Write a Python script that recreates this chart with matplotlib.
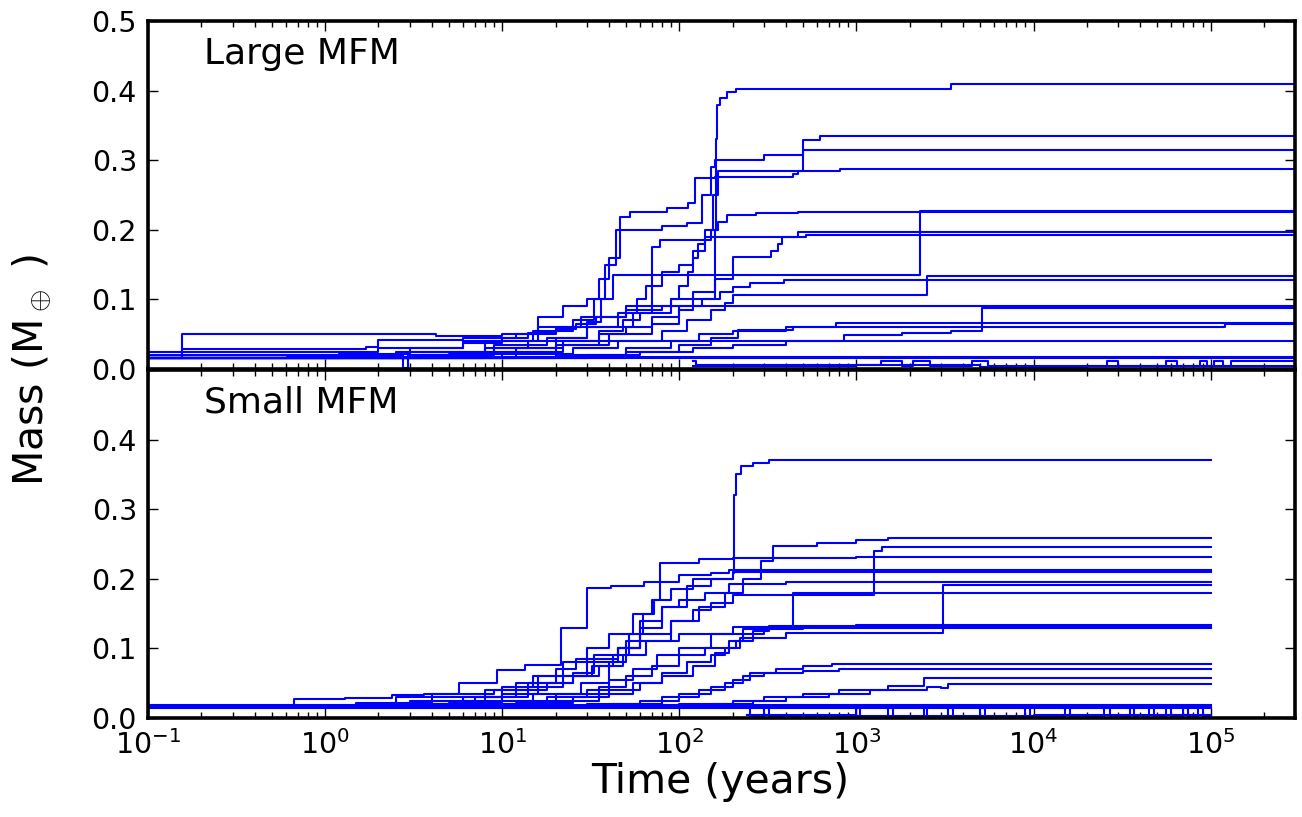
import matplotlib
matplotlib.use("Agg")
import matplotlib.pyplot as plt
from matplotlib.ticker import LogLocator, NullFormatter, FixedLocator, FixedFormatter

# ---------------- data ----------------
TOP_END = 3.2e5
BOT_END = 1.0e5

# Large MFM panel: step histories (time in years, mass in Earth masses)
top_t = [
    [0.1, 2.5, 9, 18, 30, 55, 90, 158, 161, 164, 170, 185, 210, 3400],
    [0.1, 3.5, 8, 20, 30, 45, 58, 65, 80, 100, 120, 140, 155, 165, 500, 620],
    [0.1, 2, 6, 15, 25, 33, 38, 44, 80, 110, 135, 150, 160, 300, 500],
    [0.1, 3, 8, 16, 22, 30, 35, 40, 46, 53, 85, 112, 123, 160, 440, 470, 810],
    [0.1, 5, 12, 22, 35, 48, 60, 70, 78, 150, 165, 185, 270, 470],
    [0.1, 0.155, 4.2, 10, 16, 30, 36, 42, 2300],
    [0.1, 0.155, 1.7, 2.0, 6, 12, 20, 28, 50, 90, 100, 112, 120, 128, 140, 470],
    [0.1, 10, 22, 40, 70, 100, 120, 160, 200, 330, 360, 380, 520],
    [0.1, 12, 25, 45, 80, 110, 150, 180, 200, 2500],
    [0.1, 8, 20, 35, 50, 70, 100, 135, 170, 200, 250, 390],
    [0.1, 30, 60, 120, 200, 400, 850, 1800, 3400, 5100],
    [0.1, 20, 50, 90, 130, 200, 400, 770],
    [0.1, 50, 100, 150, 215, 440, 1.2e5],
    [0.1, 1.2, 3, 6, 10, 14, 20, 26, 34, 50, 80],
    [0.1],
    [0.1, 0.61],
    [0.1, 2.75, 2.95, 9, 14],
    [120, 125, 1370, 1800, 2100, 2600, 4500, 5500, 2.6e4, 3.0e4, 5.6e4, 6.5e4,
     8.7e4, 9.5e4, 1.05e5, 1.17e5, 1.3e5, 2.4e5],
    [120, 400, 1000, 5000, 2e4, 1e5],
]
top_m = [
    [0.016, 0.025, 0.035, 0.045, 0.06, 0.08, 0.1, 0.2, 0.33, 0.38, 0.39, 0.398, 0.403, 0.41],
    [0.016, 0.02, 0.03, 0.045, 0.06, 0.08, 0.1, 0.12, 0.14, 0.15, 0.17, 0.2, 0.25, 0.285, 0.329, 0.335],
    [0.025, 0.03, 0.04, 0.055, 0.07, 0.1, 0.15, 0.2, 0.205, 0.21, 0.25, 0.29, 0.30, 0.307, 0.315],
    [0.016, 0.025, 0.04, 0.075, 0.09, 0.1, 0.13, 0.16, 0.219, 0.226, 0.231, 0.238, 0.274, 0.276, 0.28, 0.284, 0.288],
    [0.016, 0.022, 0.03, 0.04, 0.055, 0.07, 0.08, 0.175, 0.185, 0.2, 0.212, 0.221, 0.224, 0.226],
    [0.016, 0.05, 0.047, 0.05, 0.06, 0.068, 0.1, 0.135, 0.227],
    [0.016, 0.029, 0.032, 0.042, 0.045, 0.05, 0.06, 0.075, 0.09, 0.1, 0.12, 0.14, 0.16, 0.18, 0.19, 0.197],
    [0.016, 0.025, 0.035, 0.05, 0.065, 0.085, 0.11, 0.13, 0.161, 0.17, 0.18, 0.19, 0.193],
    [0.016, 0.022, 0.03, 0.04, 0.055, 0.07, 0.085, 0.095, 0.106, 0.134],
    [0.016, 0.025, 0.035, 0.05, 0.06, 0.075, 0.09, 0.1, 0.11, 0.118, 0.124, 0.128],
    [0.016, 0.02, 0.025, 0.03, 0.035, 0.04, 0.049, 0.052, 0.055, 0.088],
    [0.016, 0.02, 0.03, 0.04, 0.05, 0.055, 0.06, 0.066],
    [0.016, 0.025, 0.035, 0.045, 0.056, 0.060, 0.065],
    [0.016, 0.022, 0.03, 0.038, 0.045, 0.052, 0.058, 0.065, 0.075, 0.085, 0.09],
    [0.016],
    [0.016, 0.018],
    [0.02, 0.002, 0.02, 0.03, 0.04],
    [0.012, 0.006, 0.012, 0.005, 0.012, 0.004, 0.012, 0.004, 0.012, 0.005, 0.012, 0.005,
     0.012, 0.004, 0.012, 0.004, 0.012, 0.011],
    [0.005, 0.004, 0.006, 0.003, 0.005, 0.004],
]

# Small MFM panel
bot_t = [
    [0.1, 2.5, 4, 9, 14, 20, 30, 45, 60, 80, 110, 150, 200, 204, 210, 222, 260, 320],
    [0.1, 0.67, 1.3, 2.4, 3.6, 5.7, 9.3, 13.4, 21.5, 30, 41, 63, 100, 150, 190],
    [0.1, 3, 7, 12, 18, 25, 35, 48, 65, 90, 130, 180, 230, 290, 340, 600, 1000, 1500],
    [0.1, 5, 10, 16, 25, 33, 45, 60, 90, 120, 150, 200, 1250, 1400],
    [0.1, 3, 8, 14, 22, 32, 42, 52, 62, 72, 78, 130, 200, 1000],
    [0.1, 6, 15, 28, 40, 50, 60, 80, 100, 140, 190, 400],
    [0.1, 10, 20, 35, 50, 70, 100, 140, 220, 400, 3100],
    [0.1, 8, 18, 30, 40, 55, 75, 100, 150, 200, 440],
    [0.1, 12, 25, 40, 60, 80, 110, 150, 180, 210, 260, 320, 1000],
    [0.1, 20, 35, 55, 80, 120, 160, 190, 230, 500],
    [0.1, 30, 60, 100, 150, 200, 250, 350, 500, 730],
    [0.1, 40, 80, 130, 180, 230, 300, 500, 800],
    [0.1, 100, 200, 300, 500, 800, 1500, 2400],
    [0.1, 150, 260, 400, 700, 1200, 2500, 3000, 3300],
    [0.1, 1.5, 4, 8, 12, 16, 22, 30, 40, 55, 70, 90, 120, 200],
    [0.1, 2.5, 6, 10, 15, 20, 26, 33, 45, 60, 100, 300],
    [0.1],
    [0.1],
    [0.1],
    [240, 250, 300, 320, 1000, 1050, 1500, 1600, 2400, 2500, 3300, 3500, 5000, 5300,
     9000, 9500, 1.5e4, 1.6e4, 2.5e4, 2.7e4, 3.5e4, 3.7e4, 4.5e4, 4.8e4, 5.6e4, 6e4,
     7e4, 7.5e4, 8.5e4, 9e4],
    [240, 1000, 1e4],
]
bot_m = [
    [0.016, 0.03, 0.035, 0.04, 0.05, 0.06, 0.08, 0.1, 0.13, 0.16, 0.19, 0.2, 0.208, 0.32, 0.35, 0.362, 0.367, 0.37],
    [0.016, 0.027, 0.029, 0.033, 0.035, 0.05, 0.069, 0.076, 0.13, 0.187, 0.19, 0.196, 0.205, 0.209, 0.212],
    [0.016, 0.025, 0.03, 0.04, 0.05, 0.06, 0.075, 0.09, 0.11, 0.14, 0.16, 0.18, 0.2, 0.225, 0.247, 0.252, 0.256, 0.258],
    [0.016, 0.022, 0.035, 0.05, 0.065, 0.085, 0.1, 0.12, 0.14, 0.155, 0.165, 0.177, 0.24, 0.245],
    [0.016, 0.02, 0.03, 0.045, 0.06, 0.075, 0.09, 0.12, 0.15, 0.17, 0.223, 0.228, 0.23, 0.232],
    [0.016, 0.025, 0.035, 0.05, 0.08, 0.11, 0.14, 0.16, 0.17, 0.18, 0.192, 0.195],
    [0.016, 0.025, 0.035, 0.045, 0.06, 0.075, 0.09, 0.1, 0.115, 0.122, 0.191],
    [0.016, 0.02, 0.03, 0.04, 0.055, 0.07, 0.09, 0.1, 0.12, 0.131, 0.179],
    [0.016, 0.022, 0.03, 0.04, 0.05, 0.065, 0.08, 0.09, 0.1, 0.11, 0.125, 0.132, 0.134],
    [0.016, 0.025, 0.035, 0.05, 0.06, 0.075, 0.093, 0.11, 0.128, 0.131],
    [0.016, 0.02, 0.025, 0.035, 0.045, 0.055, 0.065, 0.07, 0.075, 0.078],
    [0.016, 0.02, 0.03, 0.04, 0.05, 0.06, 0.065, 0.068, 0.070],
    [0.016, 0.02, 0.025, 0.03, 0.035, 0.04, 0.046, 0.057],
    [0.016, 0.02, 0.025, 0.03, 0.035, 0.04, 0.045, 0.043, 0.049],
    [0.016, 0.022, 0.03, 0.04, 0.05, 0.06, 0.08, 0.1, 0.12, 0.15, 0.17, 0.185, 0.2, 0.21],
    [0.016, 0.02, 0.03, 0.045, 0.06, 0.07, 0.085, 0.09, 0.1, 0.11, 0.12, 0.13],
    [0.014],
    [0.016],
    [0.018],
    [0.014, 0.002, 0.014, 0.002, 0.014, 0.002, 0.014, 0.002, 0.014, 0.002, 0.014, 0.002,
     0.014, 0.002, 0.014, 0.002, 0.014, 0.002, 0.014, 0.002, 0.014, 0.002, 0.014, 0.002,
     0.014, 0.002, 0.014, 0.002, 0.014, 0.002],
    [0.004, 0.003, 0.004],
]

panel_labels = ["Large MFM", "Small MFM"]
x_ticks = [1e-1, 1e0, 1e1, 1e2, 1e3, 1e4, 1e5]
y_ticks = [0.0, 0.1, 0.2, 0.3, 0.4, 0.5]
top_yticklabels = ["0.0", "0.1", "0.2", "0.3", "0.4", "0.5"]
bot_yticklabels = ["0.0", "0.1", "0.2", "0.3", "0.4", ""]

# ---------------- plot ----------------
plt.rcParams["font.family"] = ["DejaVu Sans"]
plt.rcParams["mathtext.fontset"] = "cm"

fig = plt.figure(figsize=(13.02, 8.17), dpi=100)
ax_top = fig.add_axes([0.1137, 0.5483, 0.881, 0.4259])
ax_bot = fig.add_axes([0.1137, 0.1212, 0.881, 0.4259])

LINE_KW = dict(color="blue", lw=1.5, where="post")


def draw(ax, ts, ms, tend):
    for t, m in zip(ts, ms):
        tt = list(t) + [tend]
        mm = list(m) + [m[-1]]
        ax.step(tt, mm, **LINE_KW)


draw(ax_top, top_t, top_m, TOP_END)
draw(ax_bot, bot_t, bot_m, BOT_END)

for ax, lab, ylabs in ((ax_top, panel_labels[0], top_yticklabels),
                       (ax_bot, panel_labels[1], bot_yticklabels)):
    ax.set_xscale("log")
    ax.set_xlim(0.1, 3e5)
    ax.set_ylim(0.0, 0.5)
    ax.yaxis.set_major_locator(FixedLocator(y_ticks))
    ax.yaxis.set_major_formatter(FixedFormatter(ylabs))
    ax.xaxis.set_major_locator(FixedLocator(x_ticks))
    ax.xaxis.set_minor_locator(LogLocator(base=10, subs=range(2, 10), numticks=20))
    ax.xaxis.set_minor_formatter(NullFormatter())
    ax.tick_params(which="both", direction="in", top=True, right=True,
                   labelsize=20.5, pad=8)
    ax.tick_params(axis="x", which="major", pad=9)
    ax.tick_params(which="major", length=7, width=1)
    ax.tick_params(which="minor", length=4, width=1)
    for sp in ax.spines.values():
        sp.set_linewidth(2.6)
    ax.text(0.049, 0.877, lab, transform=ax.transAxes, fontsize=26,
            ha="left", va="baseline")

ax_top.tick_params(labelbottom=False)

fig.text(0.553, 1 - 793 / 817, "Time (years)", fontsize=29.5,
         ha="center", va="baseline")
fig.text(0.0245, 0.547, r"Mass (M$_\oplus$ )", fontsize=29.5, rotation=90,
         ha="center", va="center")

fig.savefig("out.png", dpi=100)
